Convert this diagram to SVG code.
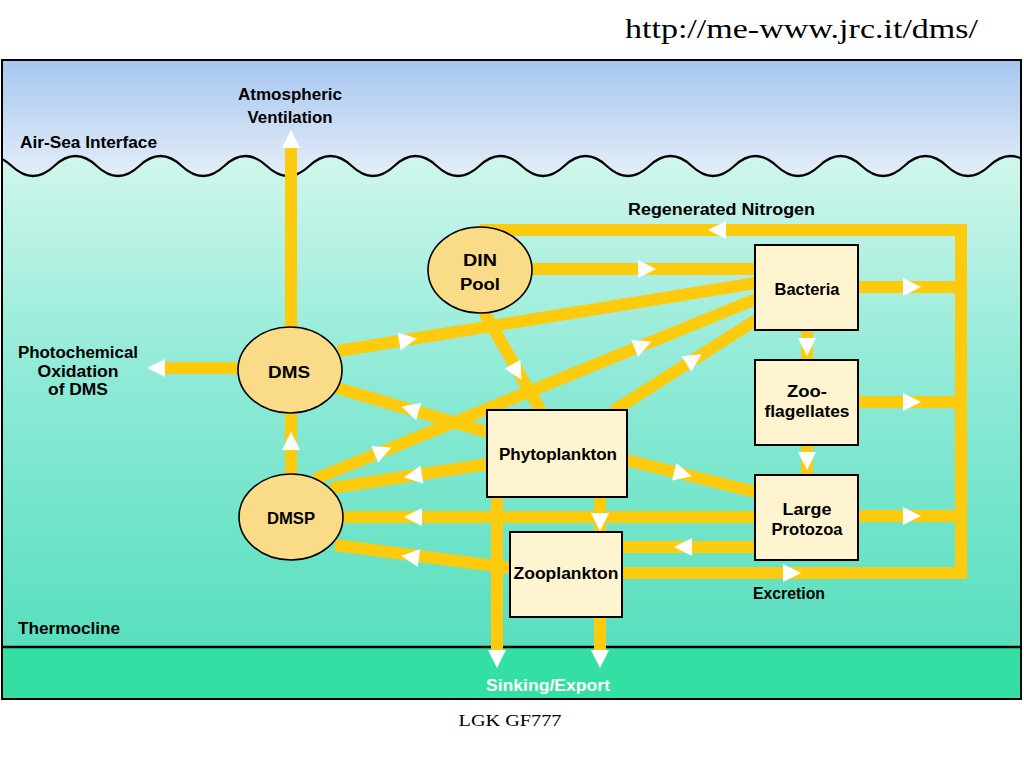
<svg xmlns="http://www.w3.org/2000/svg" xmlns:xlink="http://www.w3.org/1999/xlink" width="1024" height="768" viewBox="0 0 1024 768">
<style>
.lbl{font-family:"Liberation Sans",Arial,sans-serif;font-weight:bold;font-size:16px;fill:#000}
.mid{text-anchor:middle}
.conn{fill:none;stroke:#FCCB0E;stroke-width:12;stroke-linejoin:miter;stroke-linecap:butt}
.box{fill:#FFF4D0;stroke:#000;stroke-width:2}
.ell{fill:#F9DB88;stroke:#000;stroke-width:1.6}
.serif{font-family:"Liberation Serif","Times New Roman",serif;fill:#000}
</style>
<defs>
<linearGradient id="sky" gradientUnits="userSpaceOnUse" x1="0" y1="60" x2="0" y2="176">
<stop offset="0" stop-color="#A6C6F0"/>
<stop offset="1" stop-color="#E4EEF8"/>
</linearGradient>
<linearGradient id="water" gradientUnits="userSpaceOnUse" x1="0" y1="160" x2="0" y2="647">
<stop offset="0" stop-color="#CFF6EC"/>
<stop offset="0.45" stop-color="#8EEAD6"/>
<stop offset="1" stop-color="#58DFBD"/>
</linearGradient>
<clipPath id="frameclip"><rect x="2" y="60" width="1019" height="639"/></clipPath>
<polygon id="ah" points="9,0 -9,-9 -9,9" fill="#FFFFFF"/>
</defs>
<rect width="1024" height="768" fill="#FFFFFF"/>
<text class="serif" x="625" y="38" font-size="28" textLength="353" lengthAdjust="spacingAndGlyphs">http://me-www.jrc.it/dms/</text>
<g id="background" clip-path="url(#frameclip)">
<rect x="2" y="60" width="1019" height="639" fill="url(#sky)"/>
<path d="M -30.75 166 Q -9.5 146 11.75 166 T 54.25 166 T 96.75 166 T 139.25 166 T 181.75 166 T 224.25 166 T 266.75 166 T 309.25 166 T 351.75 166 T 394.25 166 T 436.75 166 T 479.25 166 T 521.75 166 T 564.25 166 T 606.75 166 T 649.25 166 T 691.75 166 T 734.25 166 T 776.75 166 T 819.25 166 T 861.75 166 T 904.25 166 T 946.75 166 T 989.25 166 T 1031.75 166 L 1031.75 647 L -30.75 647 Z" fill="url(#water)"/>
<path d="M -30.75 166 Q -9.5 146 11.75 166 T 54.25 166 T 96.75 166 T 139.25 166 T 181.75 166 T 224.25 166 T 266.75 166 T 309.25 166 T 351.75 166 T 394.25 166 T 436.75 166 T 479.25 166 T 521.75 166 T 564.25 166 T 606.75 166 T 649.25 166 T 691.75 166 T 734.25 166 T 776.75 166 T 819.25 166 T 861.75 166 T 904.25 166 T 946.75 166 T 989.25 166 T 1031.75 166" fill="none" stroke="#000" stroke-width="2.2"/>
<rect x="2" y="647" width="1019" height="52" fill="#34DFA3"/>
<line x1="2" y1="647" x2="1021" y2="647" stroke="#000" stroke-width="2.5"/>
</g>
<rect x="2" y="60" width="1019" height="639" fill="none" stroke="#000" stroke-width="2"/>
<g id="connectors">
<path class="conn" d="M291 330 V148"/>
<path class="conn" d="M242 368 H165"/>
<path class="conn" d="M291 476 V410"/>
<path class="conn" d="M622 573 H961 V230 H480"/>
<path class="conn" d="M530 269 H756"/>
<path class="conn" d="M858 287 H961"/>
<path class="conn" d="M858 402 H961"/>
<path class="conn" d="M858 516 H961"/>
<path class="conn" d="M807 330 V360"/>
<path class="conn" d="M807 445 V475"/>
<path class="conn" d="M338 351 L756 283"/>
<path class="conn" d="M315 479 L756 299"/>
<path class="conn" d="M487 432 L337 388"/>
<path class="conn" d="M613 411 L756 320"/>
<path class="conn" d="M484 312 L541 411"/>
<path class="conn" d="M488 464 L331 488"/>
<path class="conn" d="M626 460 L756 492"/>
<path class="conn" d="M755 517 H342"/>
<path class="conn" d="M600 497 V532"/>
<path class="conn" d="M755 547 H622"/>
<path class="conn" d="M511 568 L335 545"/>
<path class="conn" d="M497 497 V650"/>
<path class="conn" d="M600 617 V650"/>
<use xlink:href="#ah" transform="translate(291 139) rotate(-90)"/>
<use xlink:href="#ah" transform="translate(156 368) rotate(180)"/>
<use xlink:href="#ah" transform="translate(291 441) rotate(-90)"/>
<use xlink:href="#ah" transform="translate(647 269)"/>
<use xlink:href="#ah" transform="translate(717 230) rotate(180)"/>
<use xlink:href="#ah" transform="translate(912 287)"/>
<use xlink:href="#ah" transform="translate(912 402)"/>
<use xlink:href="#ah" transform="translate(912 516)"/>
<use xlink:href="#ah" transform="translate(792 573)"/>
<use xlink:href="#ah" transform="translate(807 347) rotate(90)"/>
<use xlink:href="#ah" transform="translate(807 461) rotate(90)"/>
<use xlink:href="#ah" transform="translate(413 517) rotate(180)"/>
<use xlink:href="#ah" transform="translate(600 522) rotate(90)"/>
<use xlink:href="#ah" transform="translate(683 547) rotate(180)"/>
<use xlink:href="#ah" transform="translate(410 557) rotate(187.5)"/>
<use xlink:href="#ah" transform="translate(497 659) rotate(90)"/>
<use xlink:href="#ah" transform="translate(600 659) rotate(90)"/>
<use xlink:href="#ah" transform="translate(408 340) rotate(-9.3)"/>
<use xlink:href="#ah" transform="translate(383 451) rotate(-22.2)"/>
<use xlink:href="#ah" transform="translate(643 345) rotate(-22.2)"/>
<use xlink:href="#ah" transform="translate(410 409) rotate(196.3)"/>
<use xlink:href="#ah" transform="translate(694 359) rotate(-32.5)"/>
<use xlink:href="#ah" transform="translate(517 372) rotate(60)"/>
<use xlink:href="#ah" transform="translate(413 476) rotate(171.3)"/>
<use xlink:href="#ah" transform="translate(683 474) rotate(14)"/>
</g>
<g id="node-din">
<ellipse class="ell" cx="480" cy="270" rx="52" ry="43"/>
<text class="lbl mid" x="480" y="266" textLength="34" lengthAdjust="spacingAndGlyphs">DIN</text>
<text class="lbl mid" x="480" y="290" textLength="40" lengthAdjust="spacingAndGlyphs">Pool</text>
</g>
<g id="node-dms">
<ellipse class="ell" cx="290" cy="370" rx="52" ry="43"/>
<text class="lbl mid" x="289" y="378" textLength="42" lengthAdjust="spacingAndGlyphs">DMS</text>
</g>
<g id="node-dmsp">
<ellipse class="ell" cx="291" cy="517" rx="52" ry="43"/>
<text class="lbl mid" x="291" y="524" textLength="48" lengthAdjust="spacingAndGlyphs">DMSP</text>
</g>
<g id="node-bacteria">
<rect class="box" x="755" y="245" width="103" height="85"/>
<text class="lbl mid" x="807" y="295" textLength="65" lengthAdjust="spacingAndGlyphs">Bacteria</text>
</g>
<g id="node-zooflagellates">
<rect class="box" x="755" y="360" width="103" height="85"/>
<text class="lbl mid" x="807" y="397" textLength="40" lengthAdjust="spacingAndGlyphs">Zoo-</text>
<text class="lbl mid" x="807" y="417" textLength="85" lengthAdjust="spacingAndGlyphs">flagellates</text>
</g>
<g id="node-largeprotozoa">
<rect class="box" x="755" y="475" width="103" height="85"/>
<text class="lbl mid" x="807" y="515" textLength="49" lengthAdjust="spacingAndGlyphs">Large</text>
<text class="lbl mid" x="807" y="535" textLength="71" lengthAdjust="spacingAndGlyphs">Protozoa</text>
</g>
<g id="node-phytoplankton">
<rect class="box" x="487" y="410" width="140" height="87"/>
<text class="lbl mid" x="558" y="460" textLength="118" lengthAdjust="spacingAndGlyphs">Phytoplankton</text>
</g>
<g id="node-zooplankton">
<rect class="box" x="510" y="532" width="112" height="85"/>
<text class="lbl mid" x="566" y="579" textLength="105" lengthAdjust="spacingAndGlyphs">Zooplankton</text>
</g>
<g id="labels">
<text class="lbl mid" x="290" y="100" textLength="104" lengthAdjust="spacingAndGlyphs">Atmospheric</text>
<text class="lbl mid" x="290" y="123" textLength="85" lengthAdjust="spacingAndGlyphs">Ventilation</text>
<text class="lbl" x="20" y="148" textLength="137" lengthAdjust="spacingAndGlyphs">Air-Sea Interface</text>
<text class="lbl mid" x="78" y="358" textLength="120" lengthAdjust="spacingAndGlyphs">Photochemical</text>
<text class="lbl mid" x="78" y="377" textLength="81" lengthAdjust="spacingAndGlyphs">Oxidation</text>
<text class="lbl mid" x="78" y="395" textLength="60" lengthAdjust="spacingAndGlyphs">of DMS</text>
<text class="lbl" x="628" y="215" textLength="187" lengthAdjust="spacingAndGlyphs">Regenerated Nitrogen</text>
<text class="lbl" x="753" y="599" textLength="72" lengthAdjust="spacingAndGlyphs">Excretion</text>
<text class="lbl" x="18" y="634" textLength="102" lengthAdjust="spacingAndGlyphs">Thermocline</text>
<text class="lbl mid" x="548" y="691" textLength="124" lengthAdjust="spacingAndGlyphs" style="fill:#FFFFFF">Sinking/Export</text>
</g>
<text class="serif" x="510" y="726" font-size="17" text-anchor="middle" textLength="103" lengthAdjust="spacingAndGlyphs">LGK GF777</text>
</svg>
